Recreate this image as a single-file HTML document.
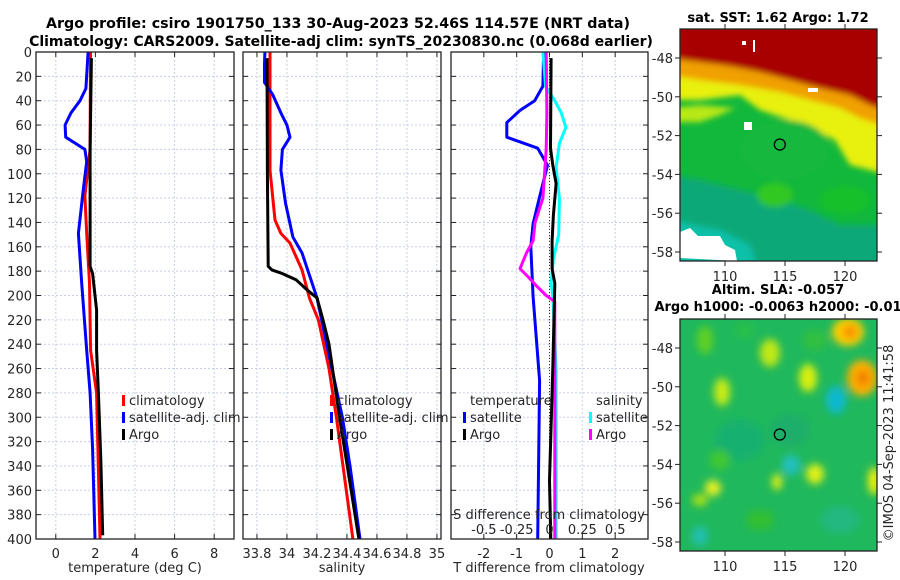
<!DOCTYPE html>
<html><head><meta charset="utf-8">
<style>
html,body{margin:0;padding:0;background:#fff;}
svg{display:block;font-family:"DejaVu Sans","Liberation Sans",sans-serif;}
</style></head>
<body>
<svg id="fig" width="900" height="580" viewBox="0 0 900 580" xmlns="http://www.w3.org/2000/svg">
<defs>
<filter id="blur4" x="-20%" y="-20%" width="140%" height="140%"><feGaussianBlur stdDeviation="4"/></filter>
<filter id="blur6" x="-20%" y="-20%" width="140%" height="140%"><feGaussianBlur stdDeviation="3"/></filter>
<clipPath id="clipTop"><rect x="680" y="29" width="197" height="232"/></clipPath>
<clipPath id="clipBot"><rect x="680" y="319" width="197" height="232"/></clipPath>
</defs>
<text x="338" y="28" text-anchor="middle" font-size="14" font-weight="bold" textLength="584" lengthAdjust="spacingAndGlyphs">Argo profile: csiro 1901750_133 30-Aug-2023 52.46S 114.57E (NRT data)</text>
<text x="341" y="46" text-anchor="middle" font-size="14" font-weight="bold">Climatology: CARS2009. Satellite-adj clim: synTS_20230830.nc (0.068d earlier)</text>
<g id="panels"></g>
<g id="maps"></g>
</svg>
<script>
// ---------- data ----------
var depthTicks=[0,20,40,60,80,100,120,140,160,180,200,220,240,260,280,300,320,340,360,380,400];
var tempTicks=[0,2,4,6,8];
var salTicks=[33.8,34,34.2,34.4,34.6,34.8,35];
var salTickLabels=["33.8","34","34.2","34.4","34.6","34.8","35"];
var diffTicks=[-2,-1,0,1,2];
var sDiffLabels=["-0.5","-0.25","0","0.25","0.5"];
var sDiffTicks=[-0.5,-0.25,0,0.25,0.5];

var tClimDepth=[0,80,118,149,190,245,280,400];
var tClimVal=[1.75,1.73,1.47,1.56,1.70,1.76,2.06,2.23];
var tSatDepth=[0,30,40,50,60,70,80,90,113,149,190,245,280,326,400];
var tSatVal=[1.63,1.52,1.22,0.77,0.47,0.50,1.47,1.56,1.39,1.14,1.31,1.56,1.73,1.86,1.98];
var tArgoDepth=[5,80,176,182,212,245,280,337,397];
var tArgoVal=[1.80,1.73,1.73,1.86,2.06,2.06,2.15,2.28,2.37];

var sClimDepth=[0,97,138,149,157,179,202,220,260,300,400];
var sClimVal=[33.887,33.887,33.92,33.96,34.02,34.10,34.15,34.21,34.28,34.33,34.44];
var sSatDepth=[0,10,25,35,50,60,70,80,97,124,152,165,202,260,300,340,400];
var sSatVal=[33.853,33.85,33.85,33.905,33.96,34.0,34.02,33.97,33.96,33.99,34.04,34.10,34.20,34.30,34.37,34.42,34.487];
var sArgoDepth=[5,100,176,179,182,187,195,202,220,240,300,400];
var sArgoVal=[33.867,33.87,33.875,33.90,33.97,34.06,34.13,34.20,34.24,34.28,34.35,34.48];

var dTSatDepth=[0,28,40,48,58,70,79,93,119,141,160,201,270,400];
var dTSatVal=[-0.18,-0.2,-0.45,-0.9,-1.3,-1.3,-0.36,-0.06,-0.3,-0.5,-0.57,-0.5,-0.3,-0.36];
var dTArgoDepth=[5,79,93,108,134,155,178,190,260,352,400];
var dTArgoVal=[0.05,0.03,0.10,0.20,0.12,0.08,0.08,0.16,0.1,0.0,0.04];
var dSSatDepth=[0,28,40,50,62,75,95,120,150,170,190,200,260,400];
var dSSatVal=[-0.05,-0.03,0.04,0.09,0.125,0.075,0.05,0.075,0.07,0.03,0.0125,0.025,0.05,0.05];
var dSArgoDepth=[0,50,80,120,140,155,165,178,185,192,200,205,260,400];
var dSArgoVal=[-0.025,-0.02,-0.025,-0.05,-0.11,-0.125,-0.175,-0.225,-0.16,-0.1,-0.025,0.04,0.04,0.04];

// ---------- helpers ----------
var NS="http://www.w3.org/2000/svg";
var fig=document.getElementById('panels');
function mk(tag,attrs,parent){var e=document.createElementNS(NS,tag);for(var k in attrs)e.setAttribute(k,attrs[k]);(parent||fig).appendChild(e);return e;}
var top0=52,bot0=539;
function yD(d){return top0+(bot0-top0)*d/400;}

function panel(x0,x1,dmin,dmax,showY,name){
  var g=mk('g',{});
  
  
  function xs(v){return x0+(x1-x0)*(v-dmin)/(dmax-dmin);}
  depthTicks.forEach(function(d){
    var l=mk('line',{x1:x0,x2:x1,y1:yD(d),y2:yD(d),stroke:'#c8cfe8','stroke-width':1,'stroke-dasharray':'2,2'},g);
    
    
    mk('line',{x1:x0,x2:x0+5,y1:yD(d),y2:yD(d),stroke:'#222','stroke-width':1},g);
    mk('line',{x1:x1,x2:x1-5,y1:yD(d),y2:yD(d),stroke:'#222','stroke-width':1},g);
    if(showY){var tx=mk('text',{x:x0-4,y:yD(d)+5,'text-anchor':'end','font-size':13,fill:'#262626'},g);tx.textContent=d;
      
      }
  });
  return {g:g,xs:xs,x0:x0,x1:x1};
}
function vgrid(p,ticks,labels){
  ticks.forEach(function(v,i){
    var x=p.xs(v);
    var l=mk('line',{x1:x,x2:x,y1:top0,y2:bot0,stroke:'#c8cfe8','stroke-width':1,'stroke-dasharray':'2,2'},p.g);
    
    
    mk('line',{x1:x,x2:x,y1:bot0,y2:bot0-5,stroke:'#222'},p.g);
    mk('line',{x1:x,x2:x,y1:top0,y2:top0+5,stroke:'#222'},p.g);
    var t=mk('text',{x:x,y:bot0+19,'text-anchor':'middle','font-size':13,fill:'#262626'},p.g);
    t.textContent=labels?labels[i]:String(v);
    
    
  });
}
function frame(p){var r=mk('rect',{x:p.x0,y:top0,width:p.x1-p.x0,height:bot0-top0,fill:'none',stroke:'#222','stroke-width':1.3},p.g);
  
  }
function line(p,ds,vs,color,w,name,scale){
  var pts=ds.map(function(d,i){return p.xs(vs[i]*(scale||1)).toFixed(1)+','+yD(d).toFixed(1);}).join(' ');
  var pl=mk('polyline',{points:pts,fill:'none',stroke:color,'stroke-width':w,'stroke-linejoin':'round'},p.g);
  
  
}
function text(p,x,y,s,size,name,anchor){var t=mk('text',{x:x,y:y,'font-size':size||13,fill:'#262626','text-anchor':anchor||'start'},p.g);t.textContent=s;
  
  return t;}
function legItem(p,x,y,color,label,name){
  var r=mk('rect',{x:x,y:y-10,width:3,height:11,fill:color},p.g);
  
  
  text(p,x+7,y,label,13,name);
}

// panel 1 temperature
var p1=panel(36,234,-1,9,true,'temperature-panel');
vgrid(p1,tempTicks);
line(p1,tClimDepth,tClimVal,'#f00',3,'temp-climatology-line');
line(p1,tSatDepth,tSatVal,'#00f',3,'temp-satellite-line');
line(p1,tArgoDepth,tArgoVal,'#000',3,'temp-argo-line');
frame(p1);
text(p1,135,572,'temperature (deg C)',13,'x-axis-title-temperature','middle');
legItem(p1,122,405,'#f00','climatology','legend-climatology');
legItem(p1,122,422,'#00f','satellite-adj. clim','legend-satellite-adj');
legItem(p1,122,439,'#000','Argo','legend-argo');

// panel 2 salinity
var p2=panel(243,441,33.707,35.027,false,'salinity-panel');
vgrid(p2,salTicks,salTickLabels);
line(p2,sClimDepth,sClimVal,'#f00',3,'sal-climatology-line');
line(p2,sSatDepth,sSatVal,'#00f',3,'sal-satellite-line');
line(p2,sArgoDepth,sArgoVal,'#000',3,'sal-argo-line');
frame(p2);
text(p2,342,572,'salinity',13,'x-axis-title-salinity','middle');
legItem(p2,330,405,'#f00','climatology','legend2-climatology');
legItem(p2,330,422,'#00f','satellite-adj. clim','legend2-satellite-adj');
legItem(p2,330,439,'#000','Argo','legend2-argo');

// panel 3 differences
var p3=panel(451,648,-3,3,false,'difference-panel');
vgrid(p3,diffTicks);
var zl=mk('line',{x1:p3.xs(0),x2:p3.xs(0),y1:top0,y2:bot0,stroke:'#333','stroke-width':1,'stroke-dasharray':'1,2'},p3.g);


line(p3,dTSatDepth,dTSatVal,'#00f',3,'tdiff-satellite-line');
line(p3,dSSatDepth,dSSatVal,'#0ff',3,'sdiff-satellite-line',4);
line(p3,dSArgoDepth,dSArgoVal,'#f0f',3,'sdiff-argo-line',4);
line(p3,dTArgoDepth,dTArgoVal,'#000',3,'tdiff-argo-line');
frame(p3);
text(p3,549,572,'T difference from climatology',13,'x-axis-title-tdiff','middle');
text(p3,549,519,'S difference from climatology',13,'s-axis-title','middle');
sDiffTicks.forEach(function(v,i){text(p3,p3.xs(v*4),534,sDiffLabels[i],13,'s-tick-label','middle');});
text(p3,470,405,'temperature',13,'legend-temperature-header');
legItem(p3,463,422,'#00f','satellite','legend-t-satellite');
legItem(p3,463,439,'#000','Argo','legend-t-argo');
text(p3,596,405,'salinity',13,'legend-salinity-header');
legItem(p3,589,422,'#0ff','satellite','legend-s-satellite');
legItem(p3,589,439,'#f0f','Argo','legend-s-argo');

// ---------- maps ----------
var mapLatTicks=[-48,-50,-52,-54,-56,-58];
var mapLonTicks=[110,115,120];
var mg=document.getElementById('maps');
function lonX(l){return 680+(l-106.25)*12;}
function latY(a,top){return top+29+(-48-a)*19.4;}
function mapAxes(top,name){
  var g=mk('g',{},mg);
  
  
  mk('rect',{x:680,y:top,width:197,height:232,fill:'none',stroke:'#222','stroke-width':1.3},g);
  mapLatTicks.forEach(function(a){var y=latY(a,top);
    mk('line',{x1:877,x2:882,y1:y,y2:y,stroke:'#222'},g);
    mk('line',{x1:680,x2:675,y1:y,y2:y,stroke:'#222'},g);
    var t=mk('text',{x:673,y:y+5,'text-anchor':'end','font-size':13,fill:'#262626'},g);t.textContent=a;
    
    });
  mapLonTicks.forEach(function(l){var x=lonX(l);
    mk('line',{x1:x,x2:x,y1:top+232,y2:top+237,stroke:'#222'},g);
    mk('line',{x1:x,x2:x,y1:top,y2:top-5,stroke:'#222'},g);
    var t=mk('text',{x:x,y:top+252,'text-anchor':'middle','font-size':13,fill:'#262626'},g);t.textContent=l;
    
    });
  var c=mk('circle',{cx:lonX(114.57),cy:latY(-52.46,top),r:5.5,fill:'none',stroke:'#000','stroke-width':1.3},g);
  
  
}
// SST map
var sst=mk('g',{'clip-path':'url(#clipTop)'},mg);


mk('rect',{x:680,y:29,width:197,height:232,fill:'#12b83c'},sst);
var sb=mk('g',{filter:'url(#blur6)'},sst);
mk('path',{d:'M670,175 L700,180 L740,190 L780,200 L810,210 L840,225 L890,225 L890,275 L670,275Z',fill:'#10a878'},sb);
mk('path',{d:'M670,220 L720,230 L750,245 L760,275 L670,275Z',fill:'#10c0a8'},sb);
mk('path',{d:'M670,100 L700,100 L740,95 L760,110 L790,120 L815,130 L835,140 L850,165 L890,175 L890,20 L670,20Z',fill:'#e8f010'},sb);
mk('path',{d:'M670,122 L700,122 L720,115 L735,108 L700,105 L670,108Z',fill:'#b8e818'},sb);
mk('path',{d:'M670,75 L700,80 L740,85 L780,92 L810,100 L840,108 L860,118 L890,128 L890,20 L670,20Z',fill:'#f0a000'},sb);
mk('path',{d:'M670,58 L700,62 L730,66 L760,72 L790,80 L820,88 L850,95 L870,105 L890,112 L890,20 L670,20Z',fill:'#a80000'},sb);
mk('ellipse',{cx:785,cy:150,rx:45,ry:30,fill:'#12b83c'},sb);
mk('ellipse',{cx:845,cy:200,rx:25,ry:14,fill:'#12c02a'},sb);
mk('ellipse',{cx:775,cy:195,rx:18,ry:12,fill:'#30c820'},sb);
mk('rect',{x:680,y:29,width:197,height:14,fill:'#a80000'},sst);
mk('path',{d:'M680,258 L680,232 L690,228 L698,236 L720,236 L725,245 L735,250 L737,261Z',fill:'#fff'},sst);
mk('rect',{x:742,y:41,width:4,height:4,fill:'#fff'},sst);
mk('rect',{x:753,y:40,width:2,height:12,fill:'#fff'},sst);
mk('rect',{x:808,y:88,width:10,height:4,fill:'#fff'},sst);
mk('rect',{x:744,y:122,width:8,height:8,fill:'#fff'},sst);
mapAxes(29,'sst-map');
// SLA map
var sla=mk('g',{'clip-path':'url(#clipBot)'},mg);


mk('rect',{x:680,y:319,width:197,height:232,fill:'#20b85c'},sla);
var bb=mk('g',{filter:'url(#blur4)'},sla);
[[848,332,16,14,'#ffd000'],[862,378,15,18,'#ffb000'],[850,332,8,7,'#f89000'],[863,378,7,8,'#f08000'],
 [770,353,10,14,'#c0e818'],[808,378,9,14,'#d8f010'],[722,392,8,14,'#c8ec18'],[713,488,8,8,'#e8f020'],[815,474,9,10,'#e0f018'],[777,482,5,8,'#e0f018'],[700,500,8,6,'#a8e018'],[705,340,8,14,'#60d020'],
 [836,400,10,14,'#10b8d0'],[791,465,9,10,'#20c0c0'],[700,536,8,10,'#20c0b0'],[874,481,6,14,'#f0f010'],[740,440,25,20,'#18b070'],[840,520,20,14,'#20b880'],
 [790,430,20,16,'#1aae6a'],[720,460,10,10,'#40c830'],[760,520,14,10,'#30c030'],[815,340,12,10,'#30c040'],[745,330,10,8,'#28c048']
].forEach(function(e){mk('ellipse',{cx:e[0],cy:e[1],rx:e[2],ry:e[3],fill:e[4]},bb);});
mapAxes(319,'sla-map');
function mtxt(x,y,s,name,bold,rot){var t=mk('text',{x:x,y:y,'text-anchor':'middle','font-size':13,'font-weight':bold?'bold':'normal',fill:bold?'#000':'#262626'},mg);
  if(rot)t.setAttribute('transform','rotate(-90 '+x+' '+y+')');
  t.textContent=s;
  
  }
mtxt(778,22,'sat. SST: 1.62 Argo: 1.72','sst-map-title',true);
mtxt(778,294,'Altim. SLA: -0.057','sla-map-title',true);
mtxt(778,311,'Argo h1000: -0.0063 h2000: -0.01','sla-map-subtitle',true);
mtxt(893,443,'©IMOS 04-Sep-2023 11:41:58','imos-credit',false,true);
</script>
</body></html>
